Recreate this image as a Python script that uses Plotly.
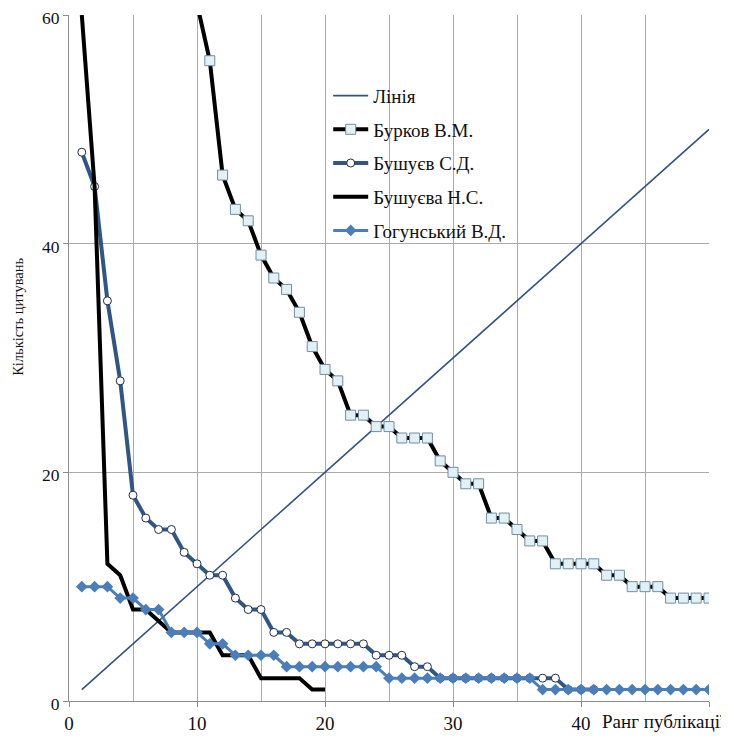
import plotly.graph_objects as go

# ---- data ----
line_x = [1, 50]
line_y = [1, 50]

burkov_x = list(range(10, 51))
burkov_y = [61, 56, 46, 43, 42, 39, 37, 36, 34, 31, 29, 28, 25, 25, 24, 24, 23, 23, 23, 21,
            20, 19, 19, 16, 16, 15, 14, 14, 12, 12, 12, 12, 11, 11, 10, 10, 10, 9, 9, 9, 9]

bushuev_x = list(range(1, 42))
bushuev_y = [48, 45, 35, 28, 18, 16, 15, 15, 13, 12, 11, 11, 9, 8, 8, 6, 6, 5, 5, 5,
             5, 5, 5, 4, 4, 4, 3, 3, 2, 2, 2, 2, 2, 2, 2, 2, 2, 2, 1, 1, 1]

bushueva_x = list(range(1, 21))
bushueva_y = [60, 45, 12, 11, 8, 8, 7, 6, 6, 6, 6, 4, 4, 4, 2, 2, 2, 2, 1, 1]

gogun_x = list(range(1, 51))
gogun_y = [10, 10, 10, 9, 9, 8, 8, 6, 6, 6, 5, 5, 4, 4, 4, 4, 3, 3, 3, 3,
           3, 3, 3, 3, 2, 2, 2, 2, 2, 2, 2, 2, 2, 2, 2, 2, 1, 1, 1, 1,
           1, 1, 1, 1, 1, 1, 1, 1, 1, 1]

x_tickvals = [0, 10, 20, 30, 40, 50]
x_ticktext = ["0", "10", "20", "30", "40", ""]
y_tickvals = [0, 20, 40, 60]

names = ["Лінія", "Бурков В.М.", "Бушуєв С.Д.", "Бушуєва Н.С.", "Гогунський В.Д."]

SERIF = "Liberation Serif"
GRID = "#ABABAB"

fig = go.Figure()
fig.add_trace(go.Scatter(x=line_x, y=line_y, mode="lines", name=names[0], legendgroup="a",
                         line=dict(color="#34537F", width=1.6)))
fig.add_trace(go.Scatter(x=burkov_x, y=burkov_y, mode="lines+markers", name=names[1], legendgroup="b",
                         line=dict(color="#000000", width=4),
                         marker=dict(symbol="square", size=10, color="#E2F1F6",
                                     line=dict(color="#6F8EA3", width=1))))
fig.add_trace(go.Scatter(x=bushuev_x, y=bushuev_y, mode="lines+markers", name=names[2], legendgroup="c",
                         line=dict(color="#2F5687", width=4),
                         marker=dict(symbol="circle", size=8, color="#FFFFFF",
                                     line=dict(color="#1E2E45", width=1))))
fig.add_trace(go.Scatter(x=bushueva_x, y=bushueva_y, mode="lines", name=names[3], legendgroup="d",
                         line=dict(color="#000000", width=4)))
fig.add_trace(go.Scatter(x=gogun_x, y=gogun_y, mode="lines+markers", name=names[4], legendgroup="e",
                         line=dict(color="#4A7EBB", width=3),
                         marker=dict(symbol="diamond", size=9, color="#4A7EBB")))

fig.update_layout(
    width=721, height=731,
    margin=dict(l=61, r=20, t=7, b=38, autoexpand=False),
    paper_bgcolor="white", plot_bgcolor="white",
    font=dict(family=SERIF, size=19, color="#111111"),
    showlegend=True,
    legend=dict(x=0.405, y=0.91, xanchor="left", yanchor="top",
                bgcolor="rgba(255,255,255,0)", font=dict(family=SERIF, size=19, color="#111111"),
                tracegroupgap=6, traceorder="grouped", itemwidth=35),
    xaxis=dict(range=[0, 50], tickvals=x_tickvals, ticktext=x_ticktext,
               showgrid=True, gridcolor=GRID, gridwidth=1,
               minor=dict(dtick=5, tick0=0, showgrid=True, gridcolor=GRID, gridwidth=1, ticks=""),
               showline=True, linecolor="#8C8C8C", linewidth=1,
               ticks="outside", ticklen=5, tickcolor="#8C8C8C",
               tickfont=dict(family=SERIF, size=19, color="#111111"),
               automargin=False, zeroline=False, fixedrange=True),
    yaxis=dict(range=[0, 60], tickvals=y_tickvals,
               showgrid=True, gridcolor=GRID, gridwidth=1,
               showline=True, linecolor="#8C8C8C", linewidth=1,
               ticks="outside", ticklen=5, tickcolor="#8C8C8C",
               tickfont=dict(family=SERIF, size=17.5, color="#111111"),
               ticklabeloverflow="allow", ticklabelshift=3,
               automargin=False, zeroline=False, fixedrange=True),
    annotations=[
        dict(text="Кількість цитувань", textangle=-90, xref="paper", yref="paper",
             x=0, y=0.56, xanchor="center", yanchor="middle", xshift=-51, showarrow=False,
             font=dict(family=SERIF, size=14.5, color="#111111")),
        dict(text="Ранг публікації", xref="paper", yref="paper", x=1, y=0,
             xanchor="right", yanchor="top", xshift=19, yshift=-8, showarrow=False,
             font=dict(family=SERIF, size=19, color="#111111")),
    ],
)

fig.write_html("out.html")
